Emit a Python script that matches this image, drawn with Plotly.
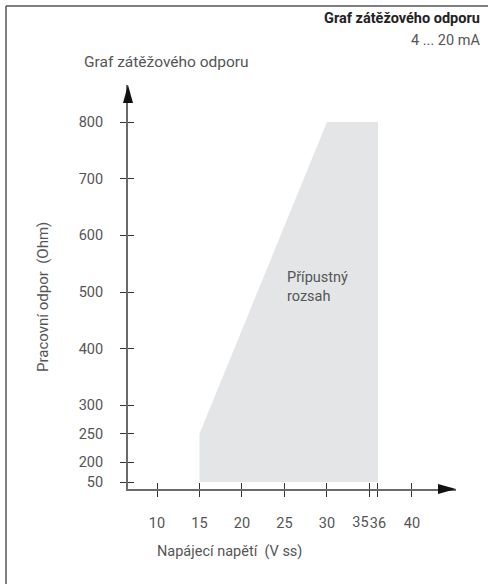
import plotly.graph_objects as go

# ---- data ----
voltage = [15, 15, 30, 36, 36]          # V ss
resistance = [50, 250, 800, 800, 50]    # Ohm
x_ticks = [10, 15, 20, 25, 30, 35, 36, 40]
x_tick_labels = ["10", "15", "20", "25", "30", "35", "36", "40"]
y_ticks = [50, 200, 250, 300, 400, 500, 600, 700, 800]
y_tick_labels = ["50", "200", "250", "300", "400", "500", "600", "700", "800"]

W, H = 488, 584
L, R, T, B = 128, 32, 85, 95
PW, PH = W - L - R, H - T - B
XR = [6.588, 45.18]
YR = [152.4, 865.3]

# broken y axis: values below 200 are compressed
def yb(v):
    return v if v >= 200 else 200 - (200 - v) * 0.235

def px(xp):
    return (xp - L) / PW

def py(yp):
    return (H - B - yp) / PH

FONT = "Roboto"
TXT = "#555555"
TICK = dict(ticks="outside", ticklen=6, tickcolor="#333", tickwidth=1)

# the "35" label sits left of its tick so it does not collide with "36"
main_x_text = ["" if t == 35 else s for t, s in zip(x_ticks, x_tick_labels)]
shift_x_val = [t for t in x_ticks if t == 35]
shift_x_text = [s for t, s in zip(x_ticks, x_tick_labels) if t == 35]

fig = go.Figure()
fig.add_trace(go.Scatter(
    x=voltage, y=[yb(v) for v in resistance], fill="toself",
    fillcolor="#e4e5e7", line=dict(width=0), mode="lines",
    hoverinfo="skip", showlegend=False))

fig.update_layout(
    width=W, height=H,
    margin=dict(l=L, r=R, t=T, b=B),
    paper_bgcolor="white", plot_bgcolor="white",
    font=dict(family=FONT, color=TXT, size=14),
    showlegend=False,
    xaxis=dict(range=XR, showgrid=False, zeroline=False,
               showline=True, linecolor="#6a6a6a", linewidth=2,
               tickvals=x_ticks, ticktext=main_x_text, tickangle=0,
               ticklabelstandoff=14, tickfont=dict(size=14.5, color=TXT),
               **TICK),
    yaxis=dict(range=YR, showgrid=False, zeroline=False,
               showline=True, linecolor="#6a6a6a", linewidth=2,
               tickvals=[yb(v) for v in y_ticks], ticktext=y_tick_labels,
               ticklabelstandoff=14, tickfont=dict(size=14.5, color=TXT),
               **TICK),
    xaxis2=dict(overlaying="x", matches="x", range=XR,
                showgrid=False, zeroline=False, showline=False,
                tickvals=x_ticks, showticklabels=False,
                ticks="inside", ticklen=6, tickcolor="#333", tickwidth=1),
    yaxis2=dict(overlaying="y", matches="y", range=YR,
                showgrid=False, zeroline=False, showline=False,
                tickvals=[yb(v) for v in y_ticks], showticklabels=False,
                ticks="inside", ticklen=6, tickcolor="#333", tickwidth=1),
    xaxis3=dict(overlaying="x", matches="x", range=XR,
                showgrid=False, zeroline=False, showline=False,
                tickvals=shift_x_val, ticktext=shift_x_text, tickangle=0,
                ticklabelstandoff=14, ticklabelshift=-9,
                tickfont=dict(size=14.5, color=TXT), **TICK),
)
# dummy traces to activate the helper axes
fig.add_trace(go.Scatter(x=[None], y=[None], xaxis="x2", yaxis="y2",
                         showlegend=False, hoverinfo="skip"))
fig.add_trace(go.Scatter(x=[None], y=[None], xaxis="x3", yaxis="y",
                         showlegend=False, hoverinfo="skip"))

# arrowheads
ax_w = 5 / PW
ax_h = 18 / PH
fig.add_shape(type="path", xref="paper", yref="paper",
              path=f"M {-ax_w} {1-ax_h} L 0 1 L {ax_w} {1-ax_h} Z",
              fillcolor="#111", line=dict(width=0))
ah_w = 18 / PW
ah_h = 5 / PH
fig.add_shape(type="path", xref="paper", yref="paper",
              path=f"M {1-ah_w} {ah_h} L 1 0 L {1-ah_w} {-ah_h} Z",
              fillcolor="#111", line=dict(width=0))

# outer frame (top and left edges)
fig.add_shape(type="line", xref="paper", yref="paper",
              x0=px(6), x1=px(W + 5), y0=py(6), y1=py(6),
              line=dict(color="#555", width=1.5))
fig.add_shape(type="line", xref="paper", yref="paper",
              x0=px(6), x1=px(6), y0=py(6), y1=py(H + 5),
              line=dict(color="#555", width=1.5))

# texts
def note(text, x, y, xa="left", ya="middle", size=14, bold=False, angle=0):
    fig.add_annotation(text=f"<b>{text}</b>" if bold else text,
                       xref="paper", yref="paper", x=px(x), y=py(y),
                       xanchor=xa, yanchor=ya, showarrow=False, textangle=angle,
                       font=dict(family=FONT, size=size,
                                 color="#222" if bold else TXT))

note("Graf zátěžového odporu", 482, 18, xa="right", size=14.5, bold=True)
note("4 ... 20 mA", 482, 41, xa="right", size=14.5)
note("Graf zátěžového odporu", 82, 62, size=15.5)
note("Napájecí napětí  (V ss)", 155, 551, size=14.5)
note("Pracovní odpor  (Ohm)", 43, 297, xa="center", size=15, angle=-90)

fig.add_annotation(text="Přípustný<br>rozsah", x=25.05, y=509,
                   xanchor="left", yanchor="middle", align="left",
                   showarrow=False, font=dict(family=FONT, size=14.5, color=TXT))

fig.write_html("out.html", config={"displayModeBar": False},
               post_script="document.body.style.margin='0';")
